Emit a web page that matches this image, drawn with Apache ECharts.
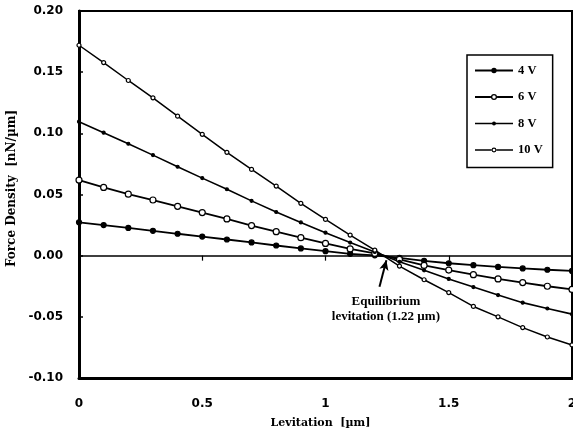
<!DOCTYPE html>
<html>
<head>
<meta charset="utf-8">
<script src="https://cdn.jsdelivr.net/npm/echarts@6/dist/echarts.min.js"></script>
<style>
  html, body { margin: 0; padding: 0; background: #fff; }
  #chart { width: 573px; height: 437px; }
</style>
</head>
<body>
<div id="chart"></div>
<script>
// Levitation positions (µm), sampled every 0.1 µm
const levitation = [0, 0.1, 0.2, 0.3, 0.4, 0.5, 0.6, 0.7, 0.8, 0.9, 1.0,
                    1.1, 1.2, 1.3, 1.4, 1.5, 1.6, 1.7, 1.8, 1.9, 2.0];

// Force density (nN/µm) at each drive voltage
const force4V  = [0.0273, 0.0250, 0.0227, 0.0203, 0.0179, 0.0156, 0.0132, 0.0108, 0.0083, 0.0059, 0.0037,
                  0.0015, 0.0003, -0.0018, -0.0042, -0.0062, -0.0078, -0.0092, -0.0104, -0.0115, -0.0125];
const force6V  = [0.0618, 0.0558, 0.0503, 0.0455, 0.0403, 0.0352, 0.0300, 0.0246, 0.0196, 0.0147, 0.0100,
                  0.0055, 0.0018, -0.0030, -0.0080, -0.0118, -0.0155, -0.0190, -0.0220, -0.0250, -0.0276];
const force8V  = [0.1095, 0.1005, 0.0915, 0.0822, 0.0727, 0.0634, 0.0543, 0.0448, 0.0357, 0.0272, 0.0188,
                  0.0107, 0.0030, -0.0050, -0.0120, -0.0190, -0.0257, -0.0322, -0.0384, -0.0432, -0.0478];
const force10V = [0.1720, 0.1578, 0.1432, 0.1290, 0.1140, 0.0992, 0.0845, 0.0705, 0.0569, 0.0428, 0.0296,
                  0.0168, 0.0045, -0.0085, -0.0197, -0.0302, -0.0415, -0.0500, -0.0588, -0.0665, -0.0730];

const seriesNames = ['4 V', '6 V', '8 V', '10 V'];

// Equilibrium annotation
const equilibriumLabel = ['Equilibrium', 'levitation (1.22 µm)'];
const arrowFrom = [1.219, -0.0255];
const arrowTo = [1.247, -0.0037];
const labelAt = [1.245, -0.044];

const pairs = ys => levitation.map((x, i) => [x, ys[i]]);

const tickFont = { fontFamily: 'DejaVu Sans', fontWeight: 'bold', fontSize: 12, color: '#000' };
const serifBold = { fontFamily: 'Liberation Serif', fontWeight: 'bold', color: '#000' };
const titleFont = { fontFamily: 'DejaVu Serif', fontWeight: 'bold', color: '#000' };

// Legend icons: a short line with the series marker in its middle
function filledIcon(r, t) {
  return 'path://M0,' + (-t) + ' L38,' + (-t) + ' L38,' + t + ' L0,' + t + ' Z ' +
    'M' + (19 - r) + ',0 A' + r + ',' + r + ' 0 1,1 ' + (19 + r) + ',0 A' + r + ',' + r + ' 0 1,1 ' + (19 - r) + ',0 Z';
}
function openIcon(r, w, t) {
  const ro = r + w / 2, ri = r - w / 2;
  return 'path://M0,' + (-t) + ' L' + (19 - ro) + ',' + (-t) + ' L' + (19 - ro) + ',' + t + ' L0,' + t + ' Z ' +
    'M' + (19 + ro) + ',' + (-t) + ' L38,' + (-t) + ' L38,' + t + ' L' + (19 + ro) + ',' + t + ' Z ' +
    'M' + (19 - ro) + ',0 A' + ro + ',' + ro + ' 0 1,1 ' + (19 + ro) + ',0 A' + ro + ',' + ro + ' 0 1,1 ' + (19 - ro) + ',0 Z ' +
    'M' + (19 - ri) + ',0 A' + ri + ',' + ri + ' 0 1,0 ' + (19 + ri) + ',0 A' + ri + ',' + ri + ' 0 1,0 ' + (19 - ri) + ',0 Z';
}

function lineSeries(name, data, size, width, filled) {
  return {
    name: name,
    type: 'line',
    data: pairs(data),
    symbol: 'circle',
    symbolSize: size,
    showSymbol: true,
    lineStyle: { color: '#000', width: width },
    itemStyle: { color: filled ? '#000' : '#fff', borderColor: '#000', borderWidth: 1.2 },
    emphasis: { disabled: true },
    animation: false,
    z: 3
  };
}

const series = [
  lineSeries(seriesNames[0], force4V, 5, 1.8, true),
  lineSeries(seriesNames[1], force6V, 6, 1.8, false),
  lineSeries(seriesNames[2], force8V, 3, 1.6, true),
  lineSeries(seriesNames[3], force10V, 4, 1.5, false)
];

series[0].markLine = {
  silent: true,
  symbol: ['none', 'arrow'],
  symbolSize: [7, 10],
  label: { show: false },
  lineStyle: { color: '#000', width: 2, type: 'solid' },
  data: [[{ coord: arrowFrom }, { coord: arrowTo }]],
  animation: false
};
series[0].markPoint = {
  silent: true,
  symbol: 'rect',
  symbolSize: 1,
  itemStyle: { color: 'rgba(0,0,0,0)' },
  data: [{ coord: labelAt, value: 0 }],
  label: {
    show: true,
    position: 'inside',
    formatter: equilibriumLabel.join('\n'),
    ...serifBold,
    fontSize: 13,
    lineHeight: 15,
    align: 'center',
    verticalAlign: 'middle'
  },
  animation: false
};

const legendIcons = [filledIcon(2.7, 1.0), openIcon(2.4, 1.3, 1.0), filledIcon(2.0, 0.8), openIcon(1.9, 1.1, 0.8)];

const chart = echarts.init(document.getElementById('chart'), null, { renderer: 'canvas' });
chart.setOption({
  backgroundColor: '#fff',
  animation: false,
  grid: {
    left: 79, top: 11, right: 1, bottom: 59,
    outerBoundsMode: 'none',
    containLabel: false,
    show: true, borderColor: '#000', borderWidth: 2, backgroundColor: 'transparent'
  },
  legend: {
    data: seriesNames.map((n, i) => ({ name: n, icon: legendIcons[i] })),
    orient: 'vertical',
    left: 467, top: 55,
    padding: [9, 10, 11, 8],
    itemWidth: 38, itemHeight: 12, itemGap: 13.5,
    symbolKeepAspect: true,
    itemStyle: { color: '#000', borderWidth: 0 },
    borderColor: '#000', borderWidth: 1.5,
    textStyle: { ...serifBold, fontSize: 12.5 },
    selectedMode: false
  },
  xAxis: [
    {
      type: 'value', position: 'bottom', min: 0, max: 2, interval: 0.5,
      axisLine: { onZero: false, lineStyle: { color: '#000', width: 3 } },
      axisTick: { show: false },
      splitLine: { show: false },
      axisLabel: { ...tickFont, margin: 20, formatter: v => String(v) },
      name: 'Levitation  [µm]', nameLocation: 'middle', nameGap: 40,
      nameTextStyle: { ...titleFont, fontSize: 11, padding: [0, 10, 0, 0] }
    },
    {
      type: 'value', position: 'top', min: 0, max: 2, interval: 0.5,
      axisLine: { onZero: true, lineStyle: { color: '#000', width: 1.5 } },
      axisTick: { show: true, inside: true, length: 5, lineStyle: { color: '#000', width: 1.2 } },
      splitLine: { show: false },
      axisLabel: { show: false }
    }
  ],
  yAxis: {
    type: 'value', min: -0.1, max: 0.2, interval: 0.05,
    axisLine: { show: true, onZero: false, lineStyle: { color: '#000', width: 3 } },
    axisTick: { show: true, inside: true, length: 4, lineStyle: { color: '#000', width: 1.5 } },
    splitLine: { show: false },
    axisLabel: { ...tickFont, margin: 16, formatter: v => v.toFixed(2) },
    name: 'Force Density  [nN/µm]', nameLocation: 'middle', nameGap: 58,
    nameTextStyle: { ...titleFont, fontSize: 12, padding: [0, 0, 0, 12] }
  },
  series: series
});
</script>
</body>
</html>
